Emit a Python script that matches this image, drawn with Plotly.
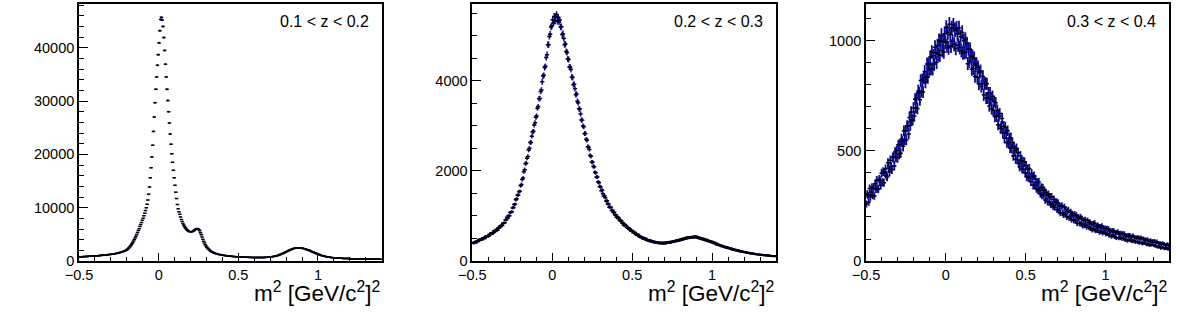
import math
import plotly.graph_objects as go

# ---------------- data (bin contents, 380 bins of width 0.005 from -0.5 to 1.4) ----------------
x_low = -0.5
bin_width = 0.005
n_bins = 380

z_labels = ["0.1 < z < 0.2", "0.2 < z < 0.3", "0.3 < z < 0.4"]

counts_z1 = [
    780, 788, 796, 804, 812, 820, 828, 836, 844, 852, 861, 870, 879, 888, 897, 906, 916, 926, 936, 946,
    957, 968, 979, 991, 1003, 1015, 1028, 1041, 1055, 1069, 1084, 1099, 1115, 1131, 1148, 1165, 1183, 1201, 1220, 1240,
    1261, 1283, 1306, 1330, 1355, 1381, 1408, 1437, 1467, 1500, 1540, 1582, 1627, 1676, 1729, 1786, 1848, 1915, 1987, 2065,
    2160, 2290, 2440, 2610, 2800, 3010, 3240, 3490, 3750, 4030, 4330, 4650, 4990, 5340, 5700, 6070, 6450, 6830, 7220, 7620,
    8040, 8480, 8950, 9450, 10000, 10650, 11450, 12500, 13900, 15600, 17500, 19500, 21700, 24300, 27000, 29700, 32200, 34500, 36700, 38700,
    40900, 43200, 45300, 45700, 45200, 44000, 41900, 39500, 36900, 34500, 32200, 30100, 28000, 25900, 23800, 21900, 20100, 18500, 17000, 15600,
    14200, 12900, 11700, 10600, 9800, 9250, 8750, 8250, 7800, 7400, 7050, 6740, 6470, 6230, 6020, 5840, 5700, 5600, 5530, 5490,
    5480, 5500, 5550, 5630, 5730, 5850, 5970, 6070, 6100, 6060, 5920, 5670, 5300, 4900, 4480, 4070, 3700, 3370, 3070, 2810,
    2600, 2400, 2230, 2090, 1960, 1850, 1750, 1660, 1580, 1510, 1450, 1400, 1350, 1310, 1270, 1240, 1210, 1180, 1150, 1120,
    1095, 1070, 1045, 1020, 1000, 980, 960, 940, 920, 905, 890, 875, 860, 845, 832, 820, 808, 797, 787, 777,
    768, 759, 751, 743, 736, 729, 722, 716, 710, 704, 698, 693, 688, 684, 680, 676, 670, 664, 659, 655,
    652, 652, 652, 652, 652, 652, 653, 654, 656, 658, 662, 665, 670, 675, 681, 690, 700, 710, 724, 738,
    756, 774, 797, 822, 850, 881, 916, 953, 996, 1040, 1090, 1142, 1200, 1259, 1323, 1389, 1458, 1529, 1602, 1675,
    1752, 1826, 1900, 1973, 2043, 2111, 2175, 2234, 2287, 2336, 2377, 2411, 2438, 2456, 2467, 2470, 2466, 2456, 2439, 2417,
    2391, 2358, 2320, 2278, 2230, 2180, 2126, 2070, 2010, 1948, 1886, 1821, 1756, 1691, 1625, 1560, 1497, 1434, 1372, 1311,
    1254, 1198, 1145, 1094, 1046, 1001, 957, 917, 879, 844, 811, 781, 754, 728, 704, 683, 663, 646, 629, 615,
    601, 587, 573, 562, 549, 539, 530, 521, 513, 505, 498, 490, 484, 478, 472, 467, 462, 457, 452, 447,
    440, 436, 433, 429, 426, 422, 419, 415, 412, 408, 405, 401, 398, 394, 391, 387, 384, 380, 377, 373,
    370, 367, 365, 362, 360, 357, 355, 352, 350, 347, 345, 342, 340, 337, 335, 332, 330, 327, 325, 322,
]

counts_z2 = [
    402, 390, 425, 413, 408, 444, 445, 436, 478, 460, 485, 474, 476, 514, 514, 499, 535, 554, 535, 557,
    556, 592, 587, 621, 597, 632, 626, 672, 654, 678, 704, 684, 731, 734, 774, 760, 793, 788, 836, 848,
    850, 912, 914, 973, 957, 1012, 1004, 1075, 1091, 1094, 1180, 1188, 1253, 1264, 1359, 1381, 1459, 1466, 1540, 1551,
    1670, 1702, 1808, 1845, 1982, 2030, 2160, 2173, 2285, 2322, 2465, 2505, 2633, 2635, 2772, 2868, 2880, 3020, 3072, 3195,
    3220, 3395, 3430, 3605, 3610, 3765, 3800, 3980, 4110, 4125, 4300, 4325, 4520, 4585, 4805, 4805, 4990, 5040, 5200, 5220,
    5360, 5290, 5435, 5330, 5430, 5475, 5330, 5415, 5310, 5355, 5200, 5205, 5030, 5050, 4945, 4805, 4820, 4655, 4635, 4490,
    4476, 4313, 4305, 4252, 4089, 4076, 3918, 3925, 3827, 3694, 3710, 3550, 3515, 3380, 3375, 3265, 3135, 3125, 3000, 2980,
    2830, 2835, 2705, 2685, 2540, 2530, 2480, 2345, 2325, 2195, 2197, 2101, 2095, 1974, 1958, 1867, 1866, 1760, 1739, 1658,
    1646, 1563, 1575, 1492, 1441, 1449, 1403, 1330, 1339, 1267, 1267, 1196, 1203, 1187, 1121, 1129, 1076, 1085, 1029, 1028,
    972, 986, 942, 955, 894, 903, 893, 842, 848, 797, 816, 775, 790, 749, 726, 739, 702, 712, 668, 676,
    666, 627, 638, 632, 588, 600, 572, 586, 546, 555, 522, 539, 527, 496, 517, 487, 503, 469, 478, 451,
    467, 439, 462, 434, 449, 416, 433, 433, 403, 421, 399, 422, 394, 413, 388, 412, 405, 386, 413, 387,
    409, 386, 411, 421, 398, 406, 428, 402, 431, 428, 415, 447, 427, 452, 431, 458, 467, 449, 448, 480,
    462, 491, 467, 496, 504, 484, 510, 496, 528, 508, 534, 508, 534, 540, 515, 537, 514, 543, 551, 524,
    547, 515, 531, 500, 518, 518, 485, 503, 478, 495, 462, 482, 457, 473, 441, 453, 428, 445, 437, 412,
    427, 400, 414, 382, 393, 389, 357, 372, 350, 361, 332, 346, 320, 333, 330, 303, 317, 297, 309, 284,
    297, 273, 285, 284, 260, 251, 268, 247, 257, 232, 246, 225, 242, 219, 228, 208, 223, 202, 213, 196,
    206, 188, 200, 182, 176, 188, 182, 165, 178, 162, 170, 153, 166, 150, 163, 144, 154, 138, 150, 145,
    133, 144, 130, 141, 124, 135, 123, 132, 115, 126, 125, 111, 124, 110, 119, 104, 115, 103, 114, 102,
]

counts_z3 = [
    259, 304, 298, 268, 329, 291, 312, 335, 298, 331, 295, 351, 327, 367, 330, 326, 372, 366, 344, 399,
    357, 406, 356, 401, 418, 389, 382, 446, 423, 404, 458, 429, 416, 471, 470, 432, 495, 471, 502, 468,
    528, 485, 529, 490, 555, 545, 521, 592, 551, 591, 550, 615, 612, 577, 652, 617, 677, 643, 641, 695,
    659, 735, 697, 741, 693, 773, 763, 733, 820, 771, 824, 768, 832, 861, 814, 837, 895, 835, 894, 869,
    927, 874, 950, 873, 933, 895, 972, 946, 903, 979, 940, 1002, 935, 995, 1026, 957, 999, 950, 1033, 993,
    1062, 978, 1039, 969, 1076, 1029, 977, 1059, 999, 1072, 985, 1051, 966, 1058, 1032, 981, 1059, 970, 1019, 956,
    1039, 945, 1001, 946, 1008, 950, 988, 897, 964, 907, 962, 928, 872, 931, 875, 922, 839, 889, 896, 835,
    881, 804, 857, 864, 793, 805, 838, 755, 805, 808, 741, 805, 741, 763, 705, 763, 735, 691, 748, 685,
    725, 656, 719, 657, 685, 619, 659, 670, 603, 612, 648, 582, 612, 558, 608, 581, 538, 592, 534, 559,
    513, 560, 511, 537, 477, 520, 501, 462, 511, 461, 492, 443, 428, 478, 455, 418, 453, 417, 450, 401,
    434, 382, 418, 380, 420, 379, 360, 398, 381, 344, 387, 344, 372, 328, 356, 323, 359, 321, 305, 335,
    298, 333, 300, 321, 277, 311, 299, 269, 303, 269, 292, 256, 292, 259, 248, 281, 244, 266, 269, 234,
    264, 228, 250, 218, 249, 250, 218, 210, 245, 214, 234, 201, 227, 231, 197, 200, 222, 187, 214, 208,
    184, 213, 185, 207, 172, 200, 193, 170, 201, 170, 193, 160, 184, 162, 187, 163, 155, 184, 175, 152,
    177, 149, 168, 141, 170, 147, 172, 138, 157, 139, 162, 155, 131, 156, 134, 159, 127, 148, 132, 149,
    123, 148, 125, 147, 117, 139, 134, 112, 138, 116, 137, 111, 129, 106, 130, 133, 105, 122, 106, 126,
    102, 124, 103, 124, 97, 116, 112, 92, 116, 98, 116, 94, 110, 90, 114, 92, 108, 86, 103, 107,
    87, 107, 83, 101, 106, 84, 79, 101, 83, 97, 96, 76, 98, 76, 90, 72, 94, 74, 86, 89,
    72, 90, 69, 83, 88, 64, 82, 67, 81, 59, 76, 81, 61, 77, 56, 72, 60, 76, 54, 70,
]

assert len(counts_z1) == n_bins and len(counts_z2) == n_bins and len(counts_z3) == n_bins

# ---------------- layout constants ----------------
W, H = 1181, 329
panels_px = [(79, 381.7), (472.3, 776), (866, 1169.3)]
top_px, bottom_px = 4, 261
y_ranges = [[0, 48200], [0, 5710], [0, 1168]]
y_dticks = [10000, 2000, 500]
y_minor = [2000, 500, 100]
marker_sizes = [2.5, 3, 3]
bar_widths = [1.4, 1.5, 1.8]

centers = [x_low + bin_width * (i + 0.5) for i in range(n_bins)]
all_counts = [counts_z1, counts_z2, counts_z3]

FONT = "Liberation Sans, Arial, Helvetica, sans-serif"
BAR_COLOR = "#0a0a92"
MARK_COLOR = "#000010"

fig = go.Figure()
for k, counts in enumerate(all_counts):
    errs = [math.sqrt(c) for c in counts]
    xa = "x" if k == 0 else f"x{k+1}"
    ya = "y" if k == 0 else f"y{k+1}"
    fig.add_trace(go.Scatter(
        x=centers, y=counts, mode="markers",
        xaxis=xa, yaxis=ya,
        marker=dict(symbol="line-ew", size=marker_sizes[k], line=dict(width=1.5, color=MARK_COLOR), color=MARK_COLOR),
        error_y=dict(type="data", array=errs, visible=True, color=BAR_COLOR, thickness=bar_widths[k], width=0),
        showlegend=False, hoverinfo="skip",
    ))

layout = dict(
    width=W, height=H,
    margin=dict(l=0, r=0, t=0, b=0, autoexpand=False),
    paper_bgcolor="white", plot_bgcolor="white",
    font=dict(family=FONT, color="black", size=14),
    showlegend=False,
)
annotations = []
y_dom = [1 - bottom_px / H, 1 - top_px / H]
for k, (l, r) in enumerate(panels_px):
    xk = "xaxis" if k == 0 else f"xaxis{k+1}"
    yk = "yaxis" if k == 0 else f"yaxis{k+1}"
    xa = "x" if k == 0 else f"x{k+1}"
    ya = "y" if k == 0 else f"y{k+1}"
    layout[xk] = dict(
        domain=[l / W, r / W], anchor=ya, range=[-0.5, 1.4], automargin=False,
        showline=True, linecolor="black", linewidth=1.6, mirror=True,
        showgrid=False, zeroline=False,
        ticks="inside", ticklen=8, tickwidth=1, tickcolor="black",
        tickmode="linear", tick0=0, dtick=0.5,
        tickfont=dict(family=FONT, size=14.5, color="black"),
        minor=dict(ticks="inside", ticklen=4, tickwidth=1, tickcolor="black", dtick=0.1, tick0=0, showgrid=False),
    )
    layout[yk] = dict(
        domain=y_dom, anchor=xa, range=y_ranges[k], automargin=False,
        showline=True, linecolor="black", linewidth=1.6, mirror=True,
        showgrid=False, zeroline=False,
        ticks="inside", ticklen=9, tickwidth=1, tickcolor="black",
        tickmode="linear", tick0=0, dtick=y_dticks[k], tickformat="d",
        tickfont=dict(family=FONT, size=14.5, color="black"),
        minor=dict(ticks="inside", ticklen=5, tickwidth=1, tickcolor="black", dtick=y_minor[k], tick0=0, showgrid=False),
    )
    annotations.append(dict(
        text=z_labels[k], xref=f"{xa} domain", yref="paper",
        x=1, y=1 - 21.7 / H, xanchor="right", yanchor="middle", xshift=-11,
        showarrow=False, font=dict(family=FONT, size=16, color="black"),
    ))
    annotations.append(dict(
        text="m<sup>2</sup> [GeV/c<sup>2</sup>]<sup>2</sup>", xref=f"{xa} domain", yref="paper",
        x=1, y=1 - 292 / H, xanchor="right", yanchor="middle", xshift=0,
        showarrow=False, font=dict(family=FONT, size=22.5, color="black"),
    ))
layout["annotations"] = annotations
fig.update_layout(**layout)

fig.write_html("out.html")
